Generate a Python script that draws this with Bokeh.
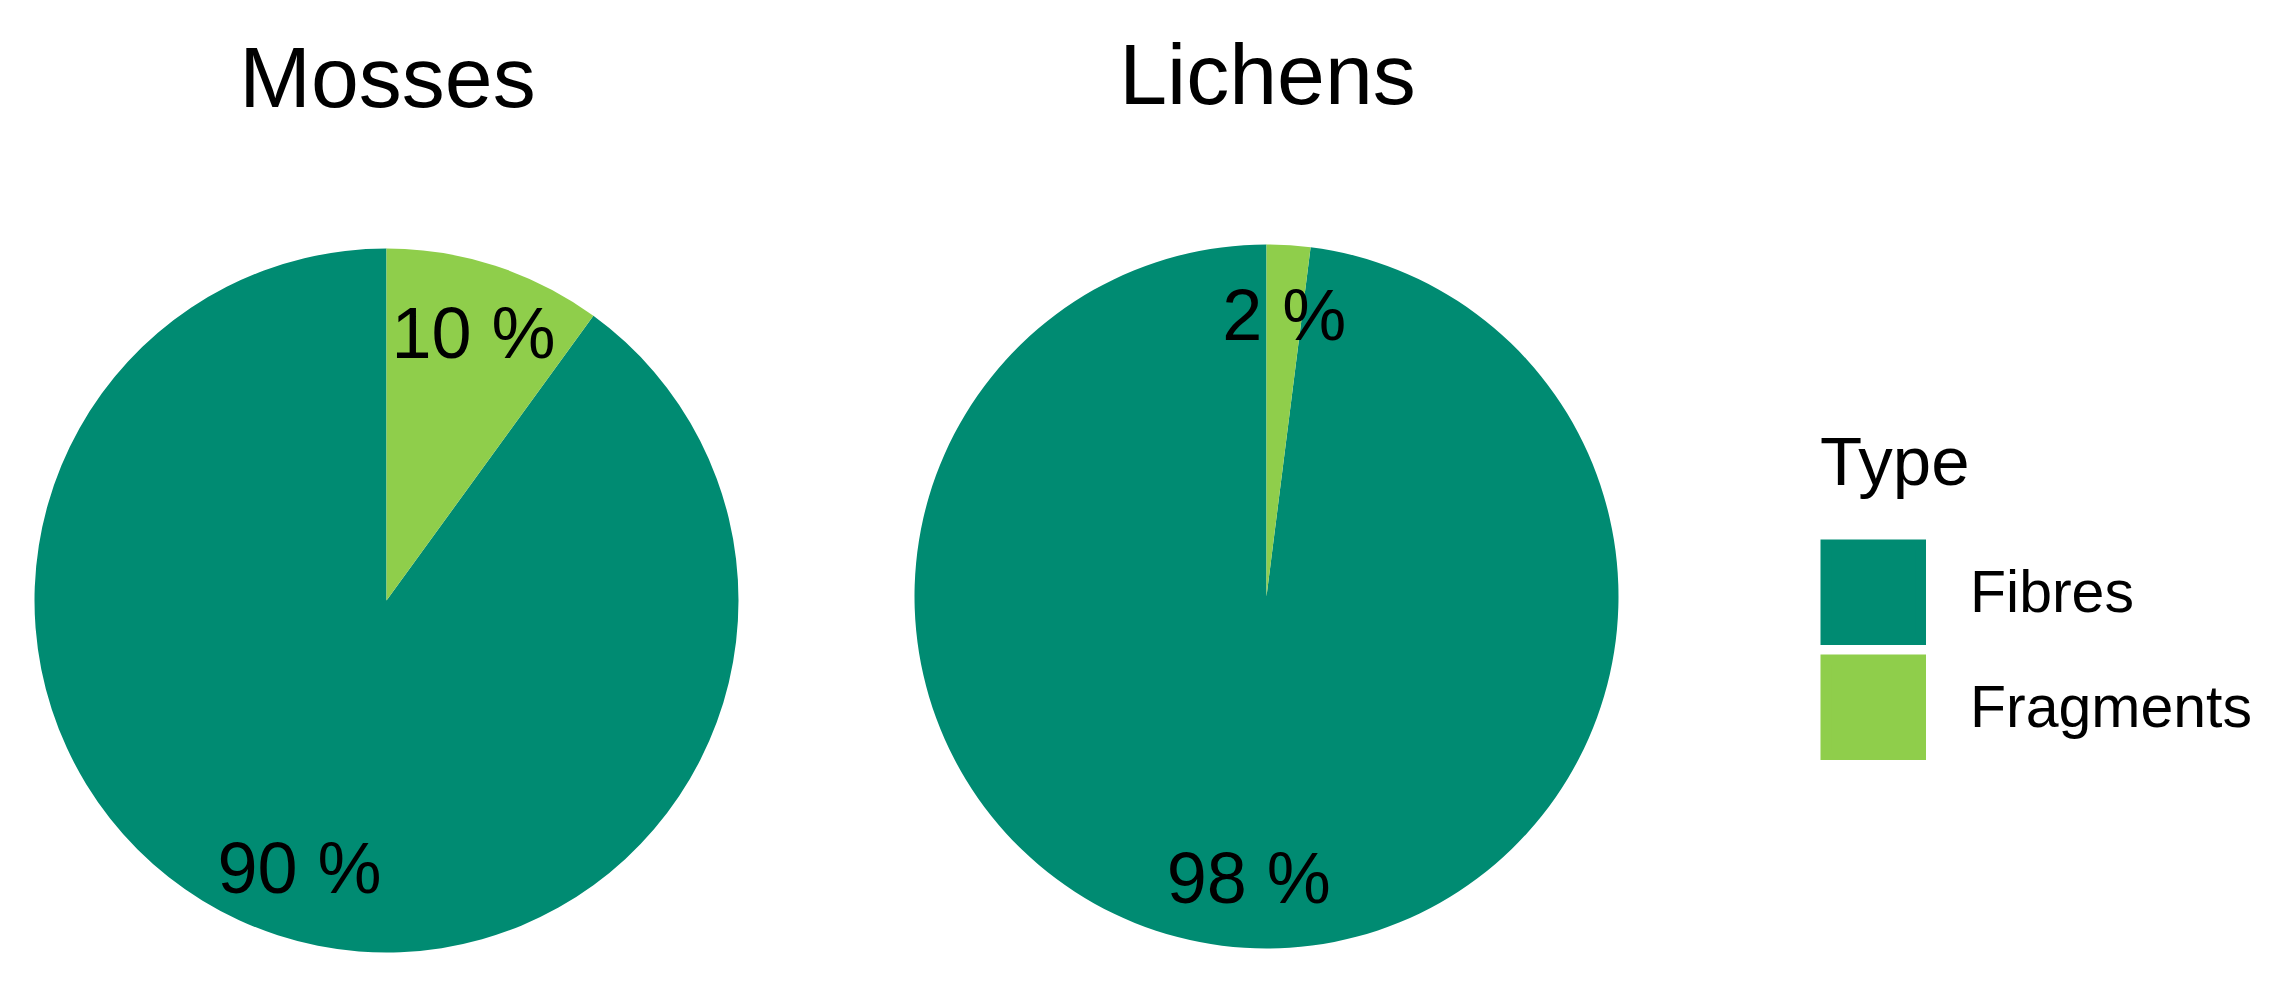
import math
from bokeh.plotting import figure
from bokeh.models import ColumnDataSource, Range1d, Legend, LegendItem
from bokeh.core.properties import value
from bokeh.embed import file_html
from bokeh.resources import INLINE

# ---- data ----
panels = ["Mosses", "Lichens"]
types = ["Fibres", "Fragments"]
fibres_pct = [90, 98]
fragments_pct = [10, 2]
colors = {"Fibres": "#008B72", "Fragments": "#8FCE4B"}

# ---- layout (screen px inside the figure, y measured upward) ----
W, H = 2255, 969
centers_x = [386, 1266]
centers_y = [369, 373]
R = 352
title_x = [387, 1267]
title_y = [893, 896]
FONT = "Liberation Sans"
KEY = 106

p = figure(width=W, height=H, x_range=Range1d(0, W), y_range=Range1d(0, H),
           output_backend="svg", toolbar_location=None,
           x_axis_location=None, y_axis_location=None, min_border=0)
p.grid.visible = False
p.outline_line_color = None

# stacking order clockwise from 12 o'clock: Fragments then Fibres
order = ["Fragments", "Fibres"]
vals = {"Fibres": fibres_pct, "Fragments": fragments_pct}

renderers = {}
keys = {}
lab_x, lab_y, lab_t = [], [], []
nan = float("nan")
for t in types:
    xs, ys, st, en = [], [], [], []
    for i in range(len(panels)):
        cum = 0
        for o in order:
            v = vals[o][i]
            if o == t:
                s_frac = cum / 100.0
                e_frac = (cum + v) / 100.0
                xs.append(centers_x[i]); ys.append(centers_y[i])
                st.append(math.pi / 2 - 2 * math.pi * e_frac)
                en.append(math.pi / 2 - 2 * math.pi * s_frac)
                mid = math.pi / 2 - 2 * math.pi * (s_frac + e_frac) / 2
                lab_x.append(centers_x[i] + 0.8 * R * math.cos(mid))
                lab_y.append(centers_y[i] + 0.8 * R * math.sin(mid))
                lab_t.append(f"{v} %")
            cum += v
    src = ColumnDataSource(dict(x=xs, y=ys, start=st, end=en))
    renderers[t] = p.wedge(x="x", y="y", radius=R, start_angle="start", end_angle="end",
                           direction="anticlock", source=src,
                           fill_color=colors[t], line_color=None)
    # full-size square legend key (a thick butt-capped line fills the key box);
    # its data is NaN so nothing is drawn in the plot area
    keys[t] = p.line(x=[nan, nan], y=[nan, nan], line_width=KEY,
                     line_color=colors[t], line_cap="butt")

p.text(x=lab_x, y=lab_y, text=lab_t, text_align="center", text_baseline="middle",
       text_font=value(FONT), text_font_size="72px", text_color="black")

p.text(x=title_x, y=title_y, text=panels, text_align="center", text_baseline="middle",
       text_font=value(FONT), text_font_size="86px", text_color="black")

legend = Legend(items=[LegendItem(label=t, renderers=[keys[t], renderers[t]]) for t in types],
                location=(1820, 209), orientation="vertical",
                title="Type", title_text_font=FONT, title_text_font_size="69px",
                title_text_font_style="normal",
                title_text_color="black", title_standoff=38,
                label_text_font=FONT, label_text_font_size="59px", label_text_color="black",
                label_standoff=44, glyph_width=KEY, glyph_height=KEY, spacing=9,
                padding=0, margin=0, border_line_color=None, background_fill_alpha=0)
p.add_layout(legend, "center")

open("out.html", "w").write(file_html(p, INLINE))
